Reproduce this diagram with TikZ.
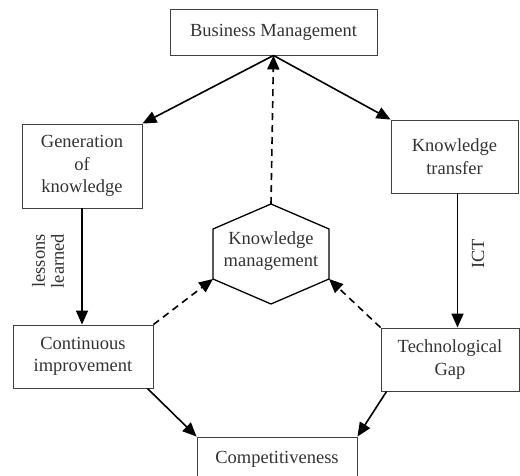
\documentclass[tikz,border=0pt]{standalone}
\usepackage{fontspec}
\setmainfont{Liberation Serif}
\usetikzlibrary{arrows.meta}

\begin{document}
\begin{tikzpicture}[x=1pt, y=-1pt,
	font=\fontsize{18.5}{22.5}\selectfont,
	box/.style={draw=black!75, line width=0.9pt, text=black!80, align=center, inner sep=0pt},
	lbl/.style={text=black!80, align=center, inner sep=0pt},
	arr/.style={line width=1.6pt, -{Triangle[length=14pt,width=12pt]}},
	dsh/.style={arr, dash pattern=on 7pt off 5pt}]
					\useasboundingbox (0,0) rectangle (520,476);

					\node[box, minimum width=207pt, minimum height=46pt] (bm) at (273.5,32) {Business Management};
					\node[box, minimum width=120pt, minimum height=84pt] (gk) at (82,166) {Generation\\of\\knowledge};
					\node[box, minimum width=127pt, minimum height=73pt] (kt) at (454.5,156.5) {Knowledge\\transfer};
					\node[box, minimum width=140pt, minimum height=63pt] (ci) at (83,356.5) {Continuous\\improvement};
					\node[box, minimum width=138pt, minimum height=63pt] (tg) at (450,359.5) {Technological\\Gap};
					\node[box, minimum width=160pt, minimum height=44pt] (comp) at (277,459) {Competitiveness};

					% hexagon
					\coordinate (kmT) at (271,204);
					\coordinate (kmTR) at (329,229);
					\coordinate (kmBR) at (329,279);
					\coordinate (kmB) at (271,304);
					\coordinate (kmBL) at (213,279);
					\coordinate (kmTL) at (213,229);
					\draw[line width=1.3pt] (kmT) -- (kmTR) -- (kmBR) -- (kmB) -- (kmBL) -- (kmTL) -- cycle;
					\node[lbl] (km) at (271,251) {Knowledge\\management};

					\node[lbl, rotate=90, font=\fontsize{18.5}{19}\selectfont] (ll) at (48,261) {lessons\\learned};
					\node[lbl, rotate=90] (ict) at (478,254) {ICT};

					\path
					(bm.south) edge[arr] (gk.north east)
					(bm.south) edge[arr] (kt.north west)
					(kmT) edge[dsh] (bm.south)
					(gk.south) edge[arr] (gk.south |- ci.north)
					([xshift=3pt]kt.south) edge[arr] ([xshift=3pt]kt.south |- tg.north)
					(ci.north east) edge[dsh] (kmBL)
					(tg.north west) edge[dsh] (kmBR)
					([xshift=-6pt]ci.south east) edge[arr] (comp.north west)
					([xshift=6pt]tg.south west) edge[arr] (comp.north east)
					;
				\end{tikzpicture}
\end{document}
